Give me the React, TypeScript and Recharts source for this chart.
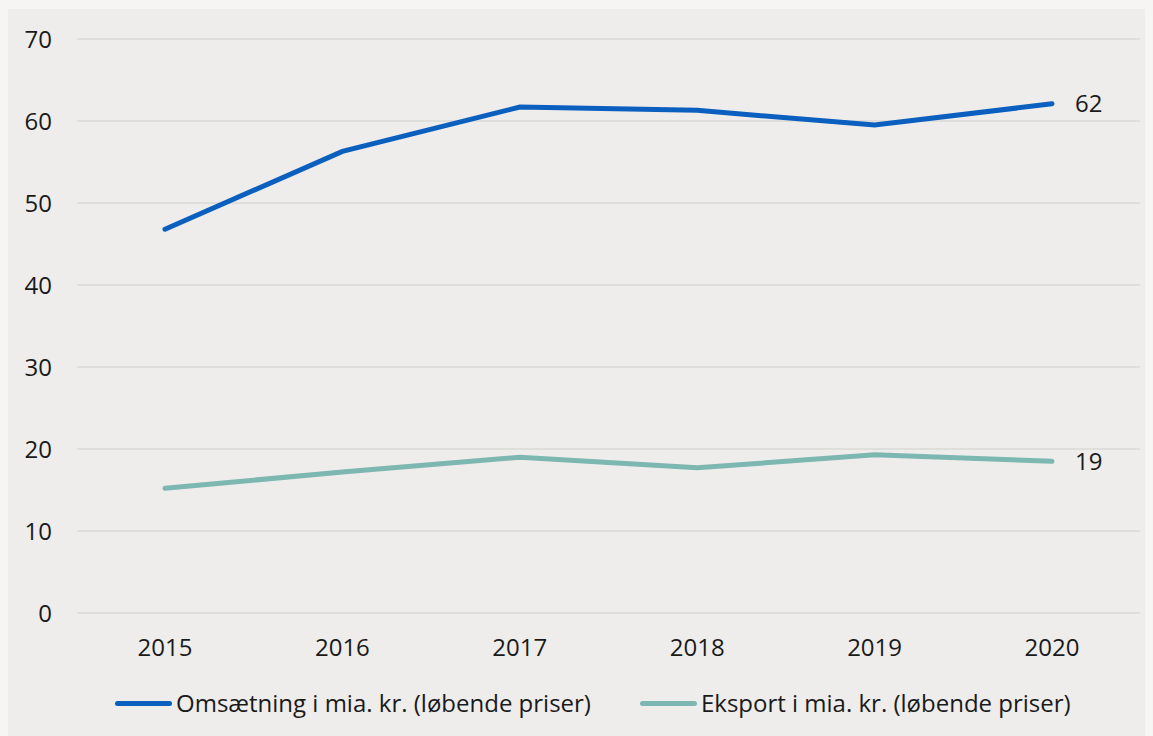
import { LineChart, Line, XAxis, YAxis, CartesianGrid, Legend, LabelList } from 'recharts'

const years = ['2015', '2016', '2017', '2018', '2019', '2020']
const omsaetning = [46.8, 56.3, 61.7, 61.3, 59.5, 62.1]
const eksport = [15.2, 17.2, 19.0, 17.7, 19.3, 18.5]
const yTicks = [0, 10, 20, 30, 40, 50, 60, 70]

const seriesNames = {
  oms: 'Omsætning i mia. kr. (løbende priser)',
  eks: 'Eksport i mia. kr. (løbende priser)',
}

const BLUE = '#0b5fbf'
const TEAL = '#7db7b1'
const FONT = '"Open Sans", "Noto Sans", sans-serif'

const data = years.map((y, i) => ({ year: y, oms: omsaetning[i], eks: eksport[i] }))

// only label the last point of each line
function EndLabel(props: any) {
  const { x, y, value, index } = props
  if (index !== years.length - 1) return null
  return (
    <text x={x + 23} y={y} dy="0.35em" fill="#1a1a1a" fontSize={24} fontFamily={FONT}>
      {Math.round(value)}
    </text>
  )
}

function LegendBox() {
  const item = (color: string, label: string) => (
    <span style={{ display: 'inline-flex', alignItems: 'center', whiteSpace: 'nowrap' }}>
      <span style={{ display: 'inline-block', width: 57, height: 5, borderRadius: 3, background: color, marginRight: 4 }} />
      <span>{label}</span>
    </span>
  )
  return (
    <div style={{ display: 'flex', justifyContent: 'flex-start', paddingLeft: 107, gap: 49, fontFamily: FONT, fontSize: 24, lineHeight: '32px', color: '#1a1a1a' }}>
      {item(BLUE, seriesNames.oms)}
      {item(TEAL, seriesNames.eks)}
    </div>
  )
}

export default function App() {
  return (
    <div style={{ marginTop: 1, background: '#eeedeb', width: 1145, height: 727 }}>
      <style>{'body { background: #f6f5f3; }'}</style>
      <LineChart width={1145} height={727} data={data} margin={{ top: 30, right: 13, left: 0, bottom: 17 }}>
        <CartesianGrid vertical={false} stroke="#d9d8d6" strokeWidth={1.5} />
        <XAxis
          dataKey="year"
          height={74}
          axisLine={false}
          tickLine={false}
          tickSize={0}
          tickMargin={26}
          padding={{ left: 88, right: 88 }}
          tick={{ fill: '#1a1a1a', fontSize: 24, fontFamily: FONT }}
        />
        <YAxis
          domain={[0, 70]}
          ticks={yTicks}
          width={69}
          axisLine={false}
          tickLine={false}
          tickSize={0}
          tickMargin={25}
          tick={{ fill: '#1a1a1a', fontSize: 24, fontFamily: FONT }}
        />
        <Legend verticalAlign="bottom" content={<LegendBox />} />
        <Line
          dataKey="oms"
          name={seriesNames.oms}
          stroke={BLUE}
          strokeWidth={5}
          strokeLinecap="round"
          dot={false}
          isAnimationActive={false}
        >
          <LabelList dataKey="oms" content={<EndLabel />} />
        </Line>
        <Line
          dataKey="eks"
          name={seriesNames.eks}
          stroke={TEAL}
          strokeWidth={5}
          strokeLinecap="round"
          dot={false}
          isAnimationActive={false}
        >
          <LabelList dataKey="eks" content={<EndLabel />} />
        </Line>
      </LineChart>
    </div>
  )
}
